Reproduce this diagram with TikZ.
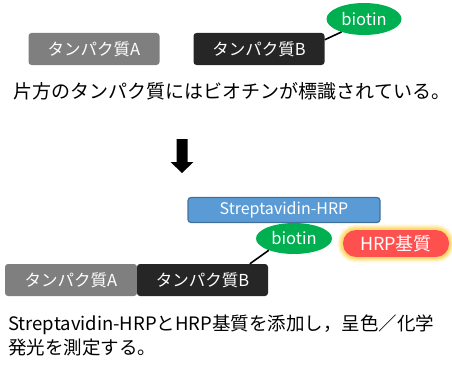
\documentclass[tikz,border=0pt]{standalone}
\usepackage{fontspec}
\setmainfont{Noto Sans CJK JP}
\usetikzlibrary{shapes.geometric,calc,backgrounds}
\definecolor{protA}{HTML}{7F7F7F}
\definecolor{protB}{HTML}{262626}
\definecolor{biogreen}{HTML}{00B050}
\definecolor{strepfill}{HTML}{5B9BD5}
\definecolor{strepline}{HTML}{41719C}
\definecolor{hrpred}{HTML}{FF5050}
\definecolor{glowy}{HTML}{FFD24D}
\tikzset{
  protbox/.style={rectangle, rounded corners=3pt, minimum width=131pt, minimum height=32pt, inner sep=0pt, text=white, font=\fontsize{16.5}{18}\selectfont},
  pa/.style={protbox, fill=protA},
  pb/.style={protbox, fill=protB},
  bio/.style={ellipse, fill=biogreen, inner sep=0pt, text=white, font=\fontsize{16.5}{18}\selectfont},
  strep/.style={rectangle, rounded corners=3pt, fill=strepfill, draw=strepline, line width=1.2pt, minimum width=192pt, minimum height=25pt, inner sep=0pt, text=white, font=\fontsize{16}{18}\selectfont},
  hrp/.style={rectangle, rounded corners=13pt, fill=hrpred, minimum width=106pt, minimum height=27pt, inner sep=0pt, text=white, font=\fontsize{18}{20}\selectfont},
  link/.style={draw=black, line width=1.6pt},
  caption/.style={inner sep=0pt, font=\fontsize{19}{22}\selectfont},
  note/.style={inner sep=0pt, align=left, font=\fontsize{18.5}{24}\selectfont}
}
\begin{document}
\begin{tikzpicture}[x=1pt,y=-1pt]
\useasboundingbox (0,0) rectangle (452,369);
% top row
\node[pa] (A1) at (94,49) {タンパク質A};
\node[pb] (B1) at (259,49) {タンパク質B};
\node[bio, minimum width=75pt, minimum height=32pt] (b1) at (364,19) {biotin};
\draw[link] (B1.8) -- (b1.210);
\node[caption] (t1) at (232,91) {片方のタンパク質にはビオチンが標識されている。};
% arrow
\fill[black] (176.5,139) -- (187.5,139) -- (187.5,162) -- (193.5,162) -- (182,173) -- (170.5,162) -- (176.5,162) -- cycle;
% bottom part
\node[strep] (S) at (284,210) {Streptavidin-HRP};
\node[bio, minimum width=76pt, minimum height=31pt] (b2) at (294,238.5) {biotin};
\node[hrp] (H) at (396,243.5) {HRP基質};
\begin{scope}[on background layer]
  \foreach \w/\o in {11/0.12, 9/0.18, 7/0.25, 5/0.35, 3/0.5} {
    \draw[glowy, line width=\w pt, opacity=\o, rounded corners=13pt] (H.south west) rectangle (H.north east);
  }
\end{scope}
\node[pa, minimum width=132pt] (A2) at (71,280) {タンパク質A};
\node[pb] (B2) at (202.5,280) {タンパク質B};
\coordinate (Bt) at ($(B2.north west)!0.86!(B2.north east)$);
\draw[link] (Bt) -- (b2.205);
\node[note, anchor=north west] (t2) at (8,315) {Streptavidin-HRPとHRP基質を添加し，呈色／化学\\発光を測定する。};
\end{tikzpicture}
\end{document}
